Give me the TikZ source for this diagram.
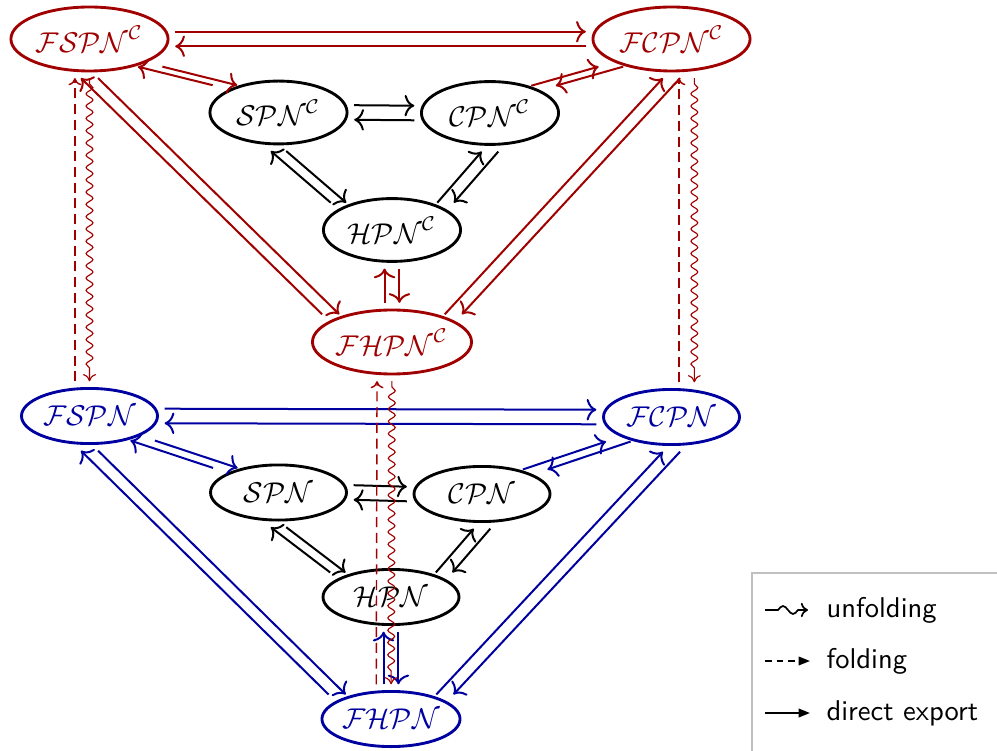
\documentclass[tikz,border=0pt]{standalone}
\usepackage{amssymb}
\usetikzlibrary{shapes.geometric,arrows.meta,decorations.pathmorphing}
\definecolor{fred}{RGB}{160,0,0}
\definecolor{fblue}{RGB}{0,0,160}
\definecolor{legendgray}{RGB}{192,192,192}

% a pair of opposite arrows between two node anchors, offset sideways (upper end first)
\newcommand\pairv[4]{%
  \draw[#1,transform canvas={xshift=#4}] (#2) -- (#3);
  \draw[#1,transform canvas={xshift=-#4}] (#3) -- (#2);}
% the same for two nodes side by side (left end first)
\newcommand\pairh[4]{%
  \draw[#1,transform canvas={yshift=#4}] (#2) -- (#3);
  \draw[#1,transform canvas={yshift=-#4}] (#3) -- (#2);}

\begin{document}
\begin{tikzpicture}[x=0.35pt,y=-0.35pt,
  net/.style={ellipse,draw,line width=1pt,inner sep=0pt,outer sep=2.5pt},
  bigc/.style={net,minimum width=55pt,minimum height=22.4pt},
  smallc/.style={net,minimum width=48pt,minimum height=22pt},
  plainnet/.style={net,minimum width=47.6pt,minimum height=19.3pt},
  export/.style={line width=0.7pt,-{To[length=3.4pt,width=7.5pt]}},
  unfold/.style={line width=0.4pt,-{To[length=2.5pt,width=4.5pt]},decorate,
    decoration={snake,amplitude=1.2pt,segment length=4.3pt,pre length=2pt,post length=3pt}},
  fold/.style={line width=0.5pt,dash pattern=on 3.5pt off 2pt,-{To[length=2.5pt,width=4.5pt]}},
  legtext/.style={anchor=west,inner sep=0pt,font=\sffamily},
]
\useasboundingbox (0,0) rectangle (997,751);

% coloured (C) nets
\node[bigc,fred]   (FSPNC) at (89.5,39)  {$\mathcal{FSPN}^{\mathcal{C}}$};
\node[bigc,fred]   (FCPNC) at (671.5,39) {$\mathcal{FCPN}^{\mathcal{C}}$};
\node[smallc]      (SPNC)  at (278.5,112.5) {$\mathcal{SPN}^{\mathcal{C}}$};
\node[smallc]      (CPNC)  at (490,113)  {$\mathcal{CPN}^{\mathcal{C}}$};
\node[smallc]      (HPNC)  at (392,230)  {$\mathcal{HPN}^{\mathcal{C}}$};
\node[bigc,fred]   (FHPNC) at (392,342)  {$\mathcal{FHPN}^{\mathcal{C}}$};

% uncoloured nets
\node[plainnet,fblue] (FSPN) at (89.5,416)  {$\mathcal{FSPN}$};
\node[plainnet,fblue] (FCPN) at (671.5,417) {$\mathcal{FCPN}$};
\node[plainnet]       (SPN)  at (278.5,492.5) {$\mathcal{SPN}$};
\node[plainnet]       (CPN)  at (482,494)   {$\mathcal{CPN}$};
\node[plainnet]       (HPN)  at (391,597)   {$\mathcal{HPN}$};
\node[plainnet,fblue] (FHPN) at (391,719)   {$\mathcal{FHPN}$};

% direct exports, coloured level
\pairh{export,fred}{FSPNC.east}{FCPNC.west}{2.55pt}
\pairv{export,fred}{FSPNC.south east}{SPNC.north west}{4.3pt}
\pairv{export,fred}{FCPNC.south west}{CPNC.north east}{4.3pt}
\pairv{export,fred}{FSPNC.south}{FHPNC.north west}{3pt}
\pairv{export,fred}{FCPNC.south}{FHPNC.north east}{3pt}
\pairv{export,fred}{HPNC.south}{FHPNC.north}{2.6pt}
\pairh{export}{SPNC.east}{CPNC.west}{2.55pt}
\pairv{export}{SPNC.south}{HPNC.north west}{2.7pt}
\pairv{export}{CPNC.south}{HPNC.north east}{2.9pt}

% direct exports, uncoloured level
\pairh{export,fblue}{FSPN.east}{FCPN.west}{2.55pt}
\pairv{export,fblue}{FSPN.south east}{SPN.north west}{4.3pt}
\pairv{export,fblue}{FCPN.south west}{CPN.north east}{4.3pt}
\pairv{export,fblue}{FSPN.south}{FHPN.north west}{3pt}
\pairv{export,fblue}{FCPN.south}{FHPN.north east}{3pt}
\pairv{export,fblue}{HPN.south}{FHPN.north}{2.6pt}
\pairh{export}{SPN.east}{CPN.west}{2.55pt}
\pairv{export}{SPN.south}{HPN.north west}{2.7pt}
\pairv{export}{CPN.south}{HPN.north east}{2.9pt}

% folding and unfolding between the levels
\draw[fold,fred,transform canvas={xshift=-5.1pt}] (FSPN) -- (FSPNC);
\draw[unfold,fred] (FSPNC) -- (FSPN);
\draw[fold,fred,transform canvas={xshift=2.6pt}] (FCPN) -- (FCPNC);
\draw[unfold,fred,transform canvas={xshift=8pt}] (FCPNC) -- (FCPN);
\draw[fold,fred,transform canvas={xshift=-5.2pt}] (FHPN) -- (FHPNC);
\draw[unfold,fred] (FHPNC) -- (FHPN);

% legend
\draw[legendgray,line width=0.7pt] (752,751) |- (997,573);
\coordinate (ua) at (765,610);
\coordinate (ub) at (808,610);
\draw[line width=0.6pt,-{To[length=2.5pt,width=5pt]}]
  (ua) -- ++(13,0) sin ++(5,-4) cos ++(5,4) sin ++(5,4) cos ++(5,-4) -- (ub);
\node[legtext] (txtu) at (826,610) {unfolding};
\coordinate (fa) at (765,661);
\coordinate (fb) at (810,661);
\draw[line width=0.6pt,dash pattern=on 2.3pt off 1.8pt,-{Triangle[length=4pt,width=3pt]}] (fa) -- (fb);
\node[legtext] (txtf) at (826,661) {folding};
\coordinate (da) at (765,713);
\coordinate (db) at (810,713);
\draw[line width=0.7pt,-{Triangle[length=4pt,width=3pt]}] (da) -- (db);
\node[legtext] (txtd) at (826,713) {direct export};
\end{tikzpicture}
\end{document}
